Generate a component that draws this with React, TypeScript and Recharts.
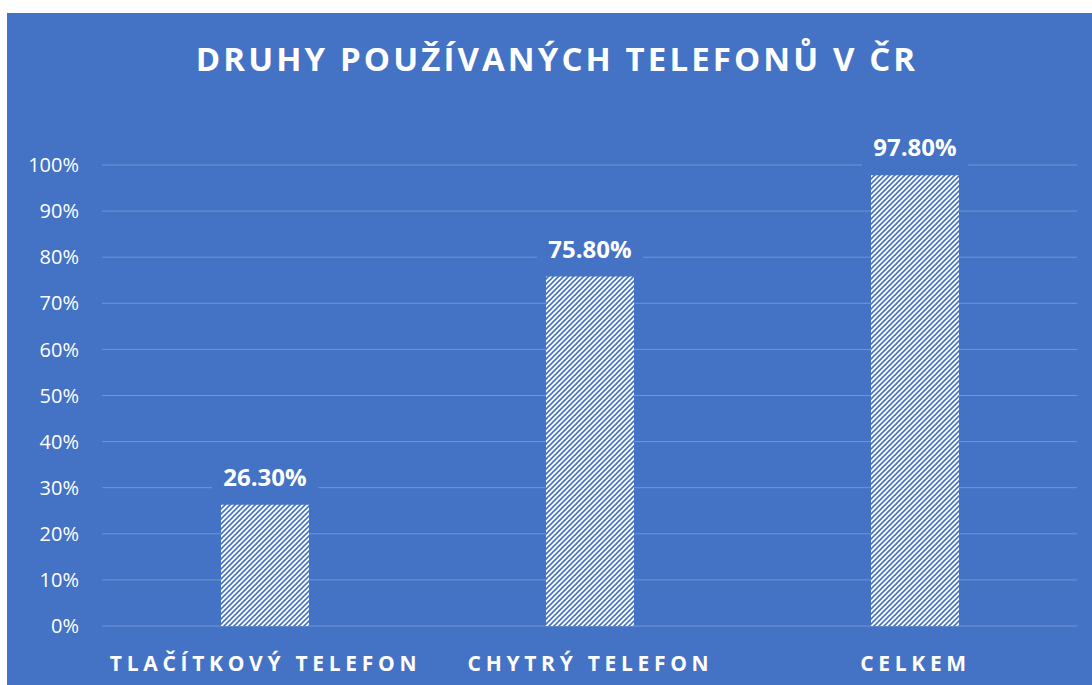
import { Bar, BarChart, CartesianGrid, LabelList, XAxis, YAxis } from 'recharts';

// ----------------------------------------------------------------------

const categories = ['TLAČÍTKOVÝ TELEFON', 'CHYTRÝ TELEFON', 'CELKEM'];
const shares = [0.263, 0.758, 0.978];
const yTicks = [0, 0.1, 0.2, 0.3, 0.4, 0.5, 0.6, 0.7, 0.8, 0.9, 1];
const title = 'DRUHY POUŽÍVANÝCH TELEFONŮ V ČR';

const BG = '#4472C4';
const FONT = '"Open Sans", "Noto Sans", sans-serif';

const data = categories.map((name, i) => ({ name, value: shares[i] }));

// ----------------------------------------------------------------------

function CategoryTick({ x, y, payload }: any) {
  return (
    <text
      x={x + 1}
      y={y + 37}
      textAnchor="middle"
      fill="#fff"
      fontFamily={FONT}
      fontWeight={700}
      fontSize={21}
      letterSpacing={4.7}
    >
      {payload.value}
    </text>
  );
}

function ValueLabel({ x, y, width, value }: any) {
  return (
    <g>
      <rect x={x - 9} y={y - 40} width={width + 18} height={33} fill={BG} />
      <text
        x={x + width / 2}
        y={y - 19}
        textAnchor="middle"
        fill="#fff"
        fontFamily={FONT}
        fontWeight={700}
        fontSize={24}
      >
        {`${(value * 100).toFixed(2)}%`}
      </text>
    </g>
  );
}

export default function App() {
  return (
    <div
      style={{
        position: 'absolute',
        left: 7,
        top: 13,
        width: 1085,
        height: 672,
        background: BG,
        fontFamily: FONT,
      }}
    >
      <div
        style={{
          position: 'absolute',
          left: 0,
          width: 1100,
          top: 23,
          textAlign: 'center',
          color: '#fff',
          fontWeight: 700,
          fontSize: 33,
          letterSpacing: 3.1,
          lineHeight: '46px',
        }}
      >
        {title}
      </div>
      <BarChart
        width={1085}
        height={672}
        data={data}
        margin={{ top: 152, right: 15, left: 0, bottom: 19 }}
        barCategoryGap={0}
      >
        <defs>
          <pattern id="hatch" width={5} height={5} patternUnits="userSpaceOnUse">
            <rect width={5} height={5} fill="#fff" />
            <path d="M-1,1 L1,-1 M0,5 L5,0 M4,6 L6,4" stroke={BG} strokeWidth={1.6} />
          </pattern>
        </defs>
        <CartesianGrid vertical={false} stroke="#7395d3" strokeWidth={1} />
        <XAxis
          dataKey="name"
          axisLine={false}
          tickLine={false}
          height={40}
          tick={<CategoryTick />}
          interval={0}
        />
        <YAxis
          domain={[0, 1]}
          ticks={yTicks}
          width={95}
          axisLine={false}
          tickLine={false}
          tickMargin={17}
          tick={{ fill: '#fff', fontSize: 20, fontFamily: FONT }}
          tickFormatter={(v: number) => `${Math.round(v * 100)}%`}
        />
        <Bar dataKey="value" barSize={88} fill="url(#hatch)" isAnimationActive={false}>
          <LabelList dataKey="value" content={<ValueLabel />} />
        </Bar>
      </BarChart>
    </div>
  );
}
